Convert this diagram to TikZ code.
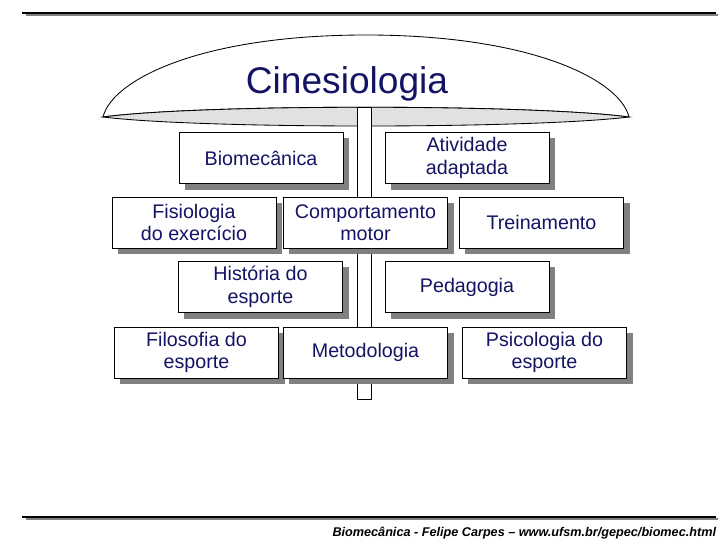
\documentclass[tikz,border=0pt]{standalone}
\usepackage{fontspec}
\setmainfont{Liberation Sans}
\usepackage{xcolor}
\usetikzlibrary{shadows}
\definecolor{azulescuro}{RGB}{20, 20, 100}
\definecolor{cinzalente}{RGB}{225, 225, 225}
\definecolor{cinzasombra}{RGB}{128, 128, 128}

\begin{document}
\begin{tikzpicture}[x=0.025cm, y=-0.025cm,
    caixa/.style={rectangle, draw, line width=0.6pt, fill=white, minimum width=4.1cm, minimum height=1.275cm, inner sep=0pt, align=center, text=azulescuro, font=\fontsize{14}{16}\selectfont, drop shadow={shadow xshift=0.15cm, shadow yshift=-0.15cm, fill=cinzasombra, opacity=1}},
    regua/.style={line width=1.5pt}]
    \useasboundingbox (0,0) rectangle (728,546);

    % Linhas do slide
    \draw[regua, cinzasombra] (26,15) -- (718,15);
    \draw[regua] (22,13) -- (716,13);
    \draw[regua, cinzasombra] (26,519) -- (718,519);
    \draw[regua] (22,517) -- (716,517);

    % Guarda-chuva
    \coordinate (pontaE) at (103,117);
    \coordinate (pontaD) at (629,117);
    \draw[fill=white, line width=0.6pt] (pontaE) .. controls (112,80) and (200,35) .. (366,35)
        .. controls (532,35) and (620,80) .. (pontaD)
        .. controls (530,104) and (200,104) .. (pontaE) -- cycle;
    \draw[fill=cinzalente, line width=0.6pt] (pontaE) .. controls (200,104) and (530,104) .. (pontaD)
        .. controls (530,129) and (200,129) .. (pontaE) -- cycle;
    \draw[fill=white, line width=0.6pt] (357,107) rectangle (371,399);
    \node[anchor=base, text=azulescuro, font=\fontsize{26.4}{28}\selectfont] (titulo) at (347,93) {Cinesiologia};

    % Caixas
    \node[caixa] (biomec) at (261,158) {Biomecânica};
    \node[caixa] (ativ) at (467,158) {Atividade\\adaptada};
    \node[caixa] (fisio) at (194,222.5) {Fisiologia\\do exercício};
    \node[caixa] (comport) at (365.5,222.5) {Comportamento\\motor};
    \node[caixa] (trein) at (541.5,222.5) {Treinamento};
    \node[caixa] (hist) at (260.5,287) {História do\\esporte};
    \node[caixa] (pedag) at (467,287) {Pedagogia};
    \node[caixa] (filos) at (196.5,352.5) {Filosofia do\\esporte};
    \node[caixa] (metod) at (365.5,352.5) {Metodologia};
    \node[caixa] (psico) at (544.5,352.5) {Psicologia do\\esporte};

    % Rodapé
    \node[anchor=base east, font=\fontsize{9}{10}\selectfont\bfseries\itshape] (rodape) at (721,536) {Biomecânica - Felipe Carpes -- www.ufsm.br/gepec/biomec.html};
\end{tikzpicture}
\end{document}
